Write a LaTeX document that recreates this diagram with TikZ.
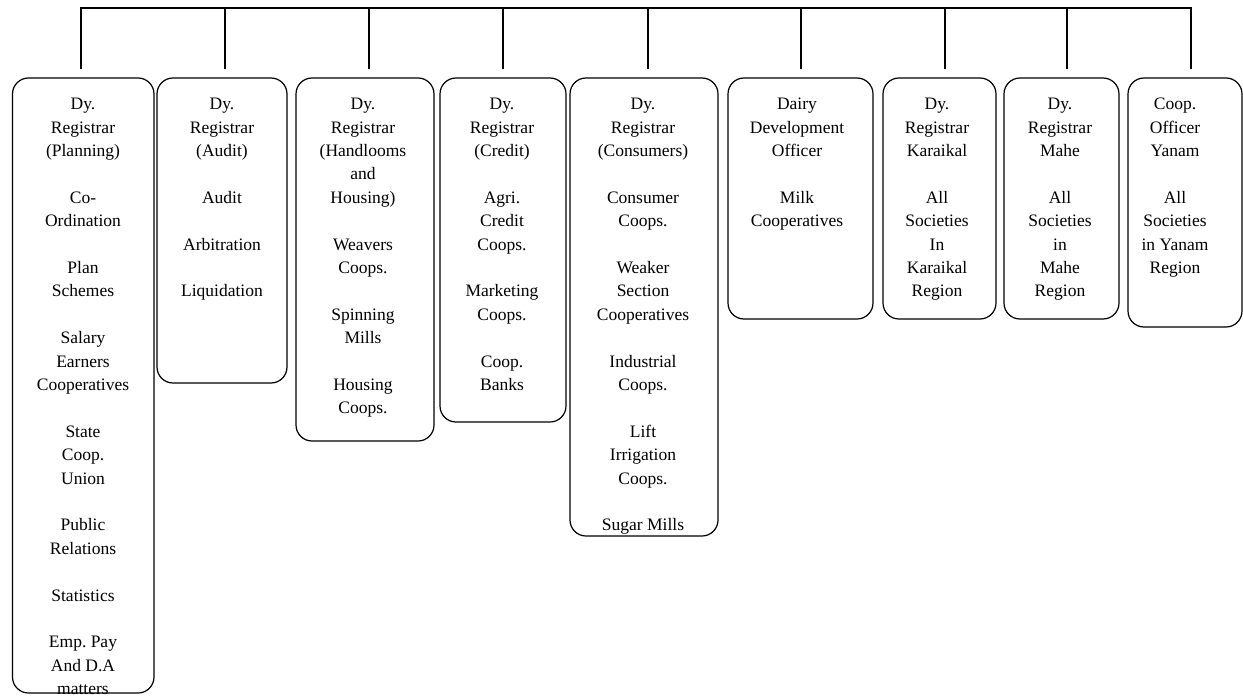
\documentclass[tikz,border=0pt]{standalone}
\usepackage{fontspec}
\setmainfont{Liberation Serif}
\begin{document}
\begin{tikzpicture}[x=1pt,y=-1pt,
  box/.style={draw, line width=1.2pt, rounded corners=16pt, inner sep=0pt, outer sep=0pt, anchor=north west},
  txt/.style={anchor=north, align=center, inner sep=0pt, font=\fontsize{17.5}{23.4}\selectfont},
  conn/.style={line width=1.2pt}]
\useasboundingbox (0,0) rectangle (1243,696);

% boxes
\node[box, minimum width=141.5pt, minimum height=615pt] (b1) at (12.5,78) {};
\node[box, minimum width=130pt, minimum height=305pt] (b2) at (157,78) {};
\node[box, minimum width=138pt, minimum height=363pt] (b3) at (296,78) {};
\node[box, minimum width=126pt, minimum height=344pt] (b4) at (440,78) {};
\node[box, minimum width=148pt, minimum height=458pt] (b5) at (570,78) {};
\node[box, minimum width=145pt, minimum height=241pt] (b6) at (728,78) {};
\node[box, minimum width=113pt, minimum height=241pt] (b7) at (883,78) {};
\node[box, minimum width=115pt, minimum height=241pt] (b8) at (1004,78) {};
\node[box, minimum width=114pt, minimum height=249pt] (b9) at (1128,78) {};

% texts
\node[txt] (l1) at (83,98) {Dy.\\Registrar\\(Planning)\\[23.4pt]Co-\\Ordination\\[23.4pt]Plan\\Schemes\\[23.4pt]Salary\\Earners\\Cooperatives\\[23.4pt]State\\Coop.\\Union\\[23.4pt]Public\\Relations\\[23.4pt]Statistics\\[23.4pt]Emp.\ Pay\\And D.A\\matters};
\node[txt] (l2) at (222,98) {Dy.\\Registrar\\(Audit)\\[23.4pt]Audit\\[23.4pt]Arbitration\\[23.4pt]Liquidation};
\node[txt] (l3) at (363,98) {Dy.\\Registrar\\(Handlooms\\and\\Housing)\\[23.4pt]Weavers\\Coops.\\[23.4pt]Spinning\\Mills\\[23.4pt]Housing\\Coops.};
\node[txt] (l4) at (502,98) {Dy.\\Registrar\\(Credit)\\[23.4pt]Agri.\\Credit\\Coops.\\[23.4pt]Marketing\\Coops.\\[23.4pt]Coop.\\Banks};
\node[txt] (l5) at (643,98) {Dy.\\Registrar\\(Consumers)\\[23.4pt]Consumer\\Coops.\\[23.4pt]Weaker\\Section\\Cooperatives\\[23.4pt]Industrial\\Coops.\\[23.4pt]Lift\\Irrigation\\Coops.\\[23.4pt]Sugar Mills};
\node[txt] (l6) at (797,98) {Dairy\\Development\\Officer\\[23.4pt]Milk\\Cooperatives};
\node[txt] (l7) at (937,98) {Dy.\\Registrar\\Karaikal\\[23.4pt]All\\Societies\\In\\Karaikal\\Region};
\node[txt] (l8) at (1060,98) {Dy.\\Registrar\\Mahe\\[23.4pt]All\\Societies\\in\\Mahe\\Region};
\node[txt] (l9) at (1175,98) {Coop.\\Officer\\Yanam\\[23.4pt]All\\Societies\\in Yanam\\Region};

% connectors
\coordinate (t1) at (81,8);   \coordinate (d1) at (81,69);
\coordinate (t2) at (225,8);  \coordinate (d2) at (225,69);
\coordinate (t3) at (369,8);  \coordinate (d3) at (369,69);
\coordinate (t4) at (503,8);  \coordinate (d4) at (503,69);
\coordinate (t5) at (648,8);  \coordinate (d5) at (648,69);
\coordinate (t6) at (801,8);  \coordinate (d6) at (801,69);
\coordinate (t7) at (945,8);  \coordinate (d7) at (945,69);
\coordinate (t8) at (1067,8); \coordinate (d8) at (1067,69);
\coordinate (t9) at (1191,8); \coordinate (d9) at (1191,69);
\draw[conn] (d1) -- (t1) -- (t9) -- (d9);
\foreach \i in {2,...,8} \draw[conn] (t\i) -- (d\i);
\end{tikzpicture}
\end{document}
